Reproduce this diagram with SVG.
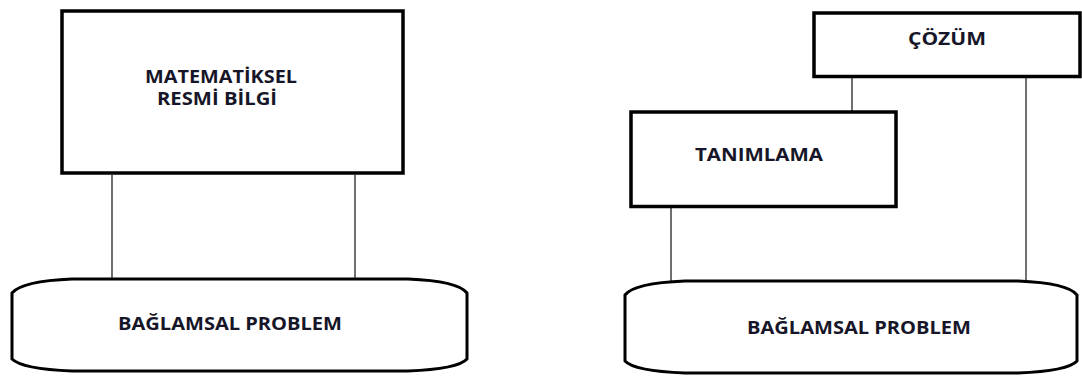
<svg xmlns="http://www.w3.org/2000/svg" width="1082" height="377" viewBox="0 0 1082 377">
  <style>
    .box { fill: #ffffff; stroke: #000000; stroke-width: 3.5; }
    .base { fill: #ffffff; stroke: #000000; stroke-width: 3; }
    .link { stroke: #222222; stroke-width: 1.3; fill: none; }
    .label { font-family: "Open Sans", "Liberation Sans", Arial, sans-serif; font-weight: bold; font-size: 17px; fill: #161628; }
  </style>
  <rect width="1082" height="377" fill="#ffffff"/>

  <!-- connectors -->
  <g id="connectors">
    <line class="link" x1="112" y1="175" x2="112" y2="279"/>
    <line class="link" x1="355" y1="175" x2="355" y2="279"/>
    <line class="link" x1="852" y1="78" x2="852" y2="112"/>
    <line class="link" x1="1026" y1="78" x2="1026" y2="281"/>
    <line class="link" x1="671" y1="208" x2="671" y2="281"/>
  </g>

  <!-- left panel -->
  <g id="formal-knowledge">
    <rect class="box" x="62" y="11" width="341" height="162"/>
    <text class="label" x="145" y="83" textLength="152" lengthAdjust="spacingAndGlyphs">MATEMATİKSEL</text>
    <text class="label" x="157" y="105" textLength="120" lengthAdjust="spacingAndGlyphs">RESMİ BİLGİ</text>
  </g>
  <g id="context-left">
    <path class="base" d="M12,293 Q22,281 72,279 L408,279 Q458,281 467,293 L467,359 Q458,369 408,371 L72,371 Q22,369 12,359 Z"/>
    <text class="label" x="118" y="330" textLength="224" lengthAdjust="spacingAndGlyphs">BAĞLAMSAL PROBLEM</text>
  </g>

  <!-- right panel -->
  <g id="solution">
    <rect class="box" x="814" y="13" width="266" height="63.5"/>
    <text class="label" x="908" y="45" textLength="78" lengthAdjust="spacingAndGlyphs">ÇÖZÜM</text>
  </g>
  <g id="definition">
    <rect class="box" x="631" y="112" width="265" height="94.5"/>
    <text class="label" x="695" y="161" textLength="128" lengthAdjust="spacingAndGlyphs">TANIMLAMA</text>
  </g>
  <g id="context-right">
    <path class="base" d="M625,295 Q634,283 685,281 L1018,281 Q1068,283 1077,295 L1077,361 Q1068,371 1018,373 L685,373 Q634,371 625,361 Z"/>
    <text class="label" x="747" y="334" textLength="224" lengthAdjust="spacingAndGlyphs">BAĞLAMSAL PROBLEM</text>
  </g>
</svg>
